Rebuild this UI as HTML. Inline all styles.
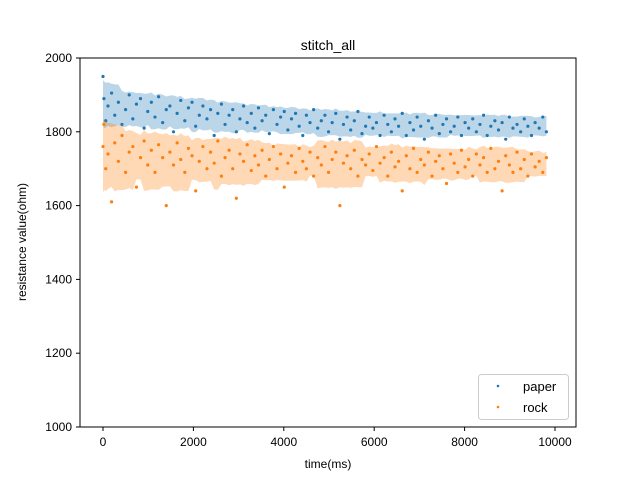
<!DOCTYPE html>
<html><head><meta charset="utf-8"><style>
body{margin:0;background:#fff;}
text{font-family:"Liberation Sans","DejaVu Sans",sans-serif;}
</style></head><body>
<svg id="chart" width="640" height="480" xmlns="http://www.w3.org/2000/svg">
<rect width="640" height="480" fill="#fff"/>
<text x="328" y="50" font-size="14" text-anchor="middle">stitch_all</text>
<g id="marks"></g>
<rect x="80" y="58" width="496" height="369" fill="none" stroke="#000" stroke-width="1"/>
<g id="ticks"></g>
<text x="328" y="468" font-size="12" text-anchor="middle">time(ms)</text>
<text transform="translate(26,242) rotate(-90)" font-size="12" text-anchor="middle">resistance value(ohm)</text>
<g>
<rect x="478.5" y="374.5" width="90" height="45" rx="3" fill="#fff" fill-opacity="0.8" stroke="#ccc"/>
<circle cx="498" cy="386" r="1.3" fill="#1f77b4"/>
<text x="523" y="391" font-size="13">paper</text>
<circle cx="498" cy="407" r="1.3" fill="#ff7f0e"/>
<text x="523" y="412" font-size="13">rock</text>
</g>
</svg>
<script>
const times=[0,20,60,110,190,260,340,420,500,580,660,740,830,910,990,1070,1150,1230,1320,1400,1480,1560,1640,1720,1810,1890,1970,2050,2130,2210,2300,2380,2460,2540,2620,2700,2790,2870,2950,3030,3110,3190,3280,3360,3440,3520,3600,3680,3770,3850,3930,4010,4090,4170,4260,4340,4420,4500,4580,4660,4750,4830,4910,4990,5070,5150,5240,5320,5400,5480,5560,5640,5730,5810,5890,5970,6050,6130,6220,6300,6380,6460,6540,6620,6710,6790,6870,6950,7030,7110,7200,7280,7360,7440,7520,7600,7690,7770,7850,7930,8010,8090,8180,8260,8340,8420,8500,8580,8670,8750,8830,8910,8990,9070,9160,9240,9320,9400,9480,9560,9650,9730,9810];
const paperValues=[1950,1890,1830,1870,1905,1845,1880,1820,1860,1900,1835,1875,1890,1810,1855,1880,1840,1895,1825,1860,1870,1800,1850,1885,1830,1865,1880,1815,1845,1870,1835,1860,1790,1850,1875,1820,1845,1860,1800,1835,1870,1825,1850,1810,1865,1830,1845,1795,1860,1820,1840,1855,1805,1835,1850,1815,1790,1845,1825,1860,1810,1830,1845,1800,1825,1850,1780,1820,1840,1805,1830,1855,1795,1815,1840,1810,1825,1790,1845,1820,1800,1835,1815,1850,1790,1825,1805,1840,1815,1780,1830,1810,1845,1795,1820,1835,1800,1815,1840,1790,1825,1810,1835,1800,1820,1845,1790,1815,1830,1805,1825,1780,1840,1810,1820,1800,1835,1815,1790,1825,1810,1840,1800];
const rockValues=[1760,1820,1700,1740,1610,1770,1720,1790,1690,1745,1760,1650,1730,1775,1710,1750,1690,1765,1730,1600,1745,1710,1770,1725,1690,1755,1735,1640,1720,1760,1700,1745,1715,1775,1680,1730,1750,1700,1620,1740,1720,1765,1695,1735,1710,1750,1680,1725,1760,1700,1740,1650,1715,1735,1690,1755,1720,1700,1745,1680,1730,1710,1760,1690,1725,1745,1600,1715,1735,1700,1750,1680,1725,1710,1740,1695,1760,1715,1730,1680,1745,1705,1720,1640,1735,1700,1755,1690,1725,1710,1745,1680,1720,1735,1700,1660,1740,1715,1690,1750,1705,1725,1680,1740,1710,1730,1690,1755,1700,1720,1640,1735,1710,1690,1745,1700,1725,1680,1740,1705,1720,1690,1730];
const xTicks=[0,2000,4000,6000,8000,10000];
const yTicks=[1000,1200,1400,1600,1800,2000];

const NS="http://www.w3.org/2000/svg";
const xScale=v=>103+(v/10000)*452;
const yScale=v=>427-(v-1000)/1000*369;
const marks=document.getElementById('marks');
const ticks=document.getElementById('ticks');

function band(vals,color,name){
  const n=Math.min(vals.length,times.length);const up=[],lo=[];
  for(let i=0;i<n;i++){
    const a=Math.max(0,i-6),b=Math.min(n-1,i+6);let s=0,c=0;
    for(let j=a;j<=b;j++){s+=vals[j];c++;}
    const m=s/c;let q=0;for(let j=a;j<=b;j++)q+=(vals[j]-m)**2;
    const sd=Math.sqrt(q/c);
    up.push(xScale(times[i])+','+yScale(m+1.6*sd));
    lo.unshift(xScale(times[i])+','+yScale(m-1.6*sd));
  }
  const p=document.createElementNS(NS,'polygon');
  
  
  p.setAttribute('points',up.concat(lo).join(' '));
  p.setAttribute('fill',color);p.setAttribute('fill-opacity','0.3');
  marks.appendChild(p);
}
function pts(vals,color,name){
  const n=Math.min(vals.length,times.length);
  for(let i=0;i<n;i++){
    const c=document.createElementNS(NS,'circle');
    
    
    c.setAttribute('cx',xScale(times[i]));c.setAttribute('cy',yScale(vals[i]));
    c.setAttribute('r',1.6);c.setAttribute('fill',color);
    marks.appendChild(c);
  }
}
band(paperValues,'#1f77b4','paper-band');
pts(paperValues,'#1f77b4','paper-point');
band(rockValues,'#ff7f0e','rock-band');
pts(rockValues,'#ff7f0e','rock-point');

xTicks.forEach(v=>{
  const x=xScale(v);
  const l=document.createElementNS(NS,'line');
  
  
  l.setAttribute('x1',x);l.setAttribute('x2',x);l.setAttribute('y1',427);l.setAttribute('y2',431);l.setAttribute('stroke','#000');
  ticks.appendChild(l);
  const t=document.createElementNS(NS,'text');
  
  
  t.setAttribute('x',x);t.setAttribute('y',446);t.setAttribute('font-size','12');t.setAttribute('text-anchor','middle');
  t.textContent=v;ticks.appendChild(t);
});
yTicks.forEach(v=>{
  const y=yScale(v);
  const l=document.createElementNS(NS,'line');
  
  
  l.setAttribute('x1',76);l.setAttribute('x2',80);l.setAttribute('y1',y);l.setAttribute('y2',y);l.setAttribute('stroke','#000');
  ticks.appendChild(l);
  const t=document.createElementNS(NS,'text');
  
  
  t.setAttribute('x',72);t.setAttribute('y',y+4);t.setAttribute('font-size','12');t.setAttribute('text-anchor','end');
  t.textContent=v;ticks.appendChild(t);
});
</script>
</body></html>
